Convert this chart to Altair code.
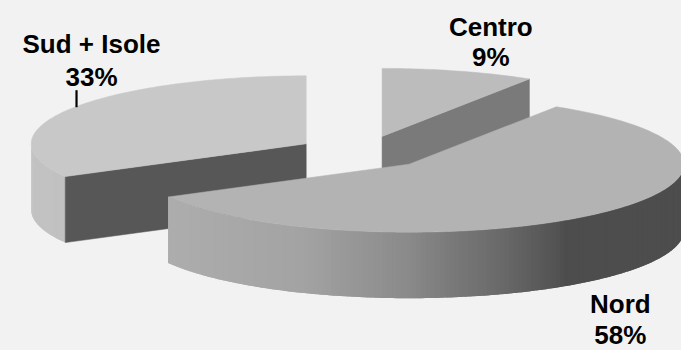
import math
import numpy as np
import altair as alt

# ---------------- data ----------------
categories = ["Centro", "Nord", "Sud + Isole"]
values = [9, 58, 33]
pct_labels = ["9%", "58%", "33%"]

# ---------------- style ----------------
SCALE = 275            # px per unit (horizontal semi-axis)
CENTER = [363.5, 152.2]
K = 68 / 275           # vertical squash of the tilted pie
DEPTH = 66 / 275       # thickness
EXPLODE = 0.242        # explosion distance
top_gray = [188, 179, 200]
cut_gray = [122, 85, 87]
light_s = [-1.0, -0.87, -0.39, 0.0, 0.15, 0.33, 0.52, 0.57, 1.0]
light_f = [0.97, 0.966, 0.91, 0.77, 0.68, 0.59, 0.475, 0.43, 0.43]
label_dx = [32, 23, 22]
name_dy = [-35, 33, -56]
pct_dy = [-5, 64, -23]
BG = "#f2f2f2"
FONT = "Liberation Sans"


def hexg(g):
    g = int(round(max(0, min(255, g))))
    return "#%02x%02x%02x" % (g, g, g)


def poly(coords, fill, stroke):
    coords = [list(map(float, c)) for c in coords]
    if coords[0] != coords[-1]:
        coords.append(coords[0])
    return {"type": "Feature", "properties": {"fill": fill, "stroke": stroke},
            "geometry": {"type": "Polygon", "coordinates": [coords]}}


total = float(sum(values))
starts, ends = [], []
acc = 0.0
for v in values:
    starts.append(acc / total * 360.0)
    acc += v
    ends.append(acc / total * 360.0)

slices = []
for i in range(len(values)):
    t1, t2 = starts[i], ends[i]
    mid = math.radians((t1 + t2) / 2)
    ox = EXPLODE * math.sin(mid)
    oy = -EXPLODE * K * math.cos(mid)
    slices.append(dict(i=i, t1=t1, t2=t2, mid=mid, ox=ox, oy=oy))


def rim(s, deg, depth=0.0):
    r = math.radians(deg)
    return [s["ox"] + math.sin(r), s["oy"] - K * math.cos(r) + depth]


features = []
labels = []
leader = []
for s in sorted(slices, key=lambda d: d["oy"]):
    i = s["i"]
    apex = [s["ox"], s["oy"]]
    apex_b = [s["ox"], s["oy"] + DEPTH]
    # outer wall (visible front half 90..270), drawn as overlapping strips
    w1, w2 = max(s["t1"], 90.0), min(s["t2"], 270.0)
    if w2 > w1:
        n = max(1, int(math.ceil(w2 - w1)))
        for j in range(n):
            a0 = w1 + (w2 - w1) * j / n
            a1 = min(w2, w1 + (w2 - w1) * (j + 1) / n + 0.9)
            am = math.radians(w1 + (w2 - w1) * (j + 0.5) / n)
            g = top_gray[i] * float(np.interp(math.sin(am), light_s, light_f))
            pts = [rim(s, a0), rim(s, (a0 + a1) / 2), rim(s, a1),
                   rim(s, a1, DEPTH), rim(s, (a0 + a1) / 2, DEPTH), rim(s, a0, DEPTH)]
            features.append(poly(pts, hexg(g), "transparent"))
    # radial cut faces
    for t, sgn in ((s["t1"], -90.0), (s["t2"], 90.0)):
        if math.cos(math.radians(t + sgn)) < -1e-6:
            features.append(poly([apex, rim(s, t), rim(s, t, DEPTH), apex_b],
                                 hexg(cut_gray[i]), hexg(cut_gray[i])))
    # top face
    n = max(2, int(math.ceil(s["t2"] - s["t1"])))
    arc = [rim(s, s["t1"] + (s["t2"] - s["t1"]) * j / n) for j in range(n + 1)]
    features.append(poly([apex] + arc, hexg(top_gray[i]), hexg(top_gray[i])))

    # labels
    md = math.degrees(s["mid"])
    below = math.cos(s["mid"]) < 0
    p = rim(s, md, DEPTH if below else 0.0)
    lx = p[0] + label_dx[i] / SCALE
    labels.append({"lon": lx, "lat": p[1] + name_dy[i] / SCALE, "text": categories[i]})
    labels.append({"lon": lx, "lat": p[1] + pct_dy[i] / SCALE, "text": pct_labels[i]})
    if not below and name_dy[i] < -45:
        leader.append({"type": "Feature", "properties": {},
                       "geometry": {"type": "LineString",
                                    "coordinates": [[p[0] + 7 / SCALE, p[1] - 19 / SCALE],
                                                    [p[0] + 7 / SCALE, p[1] - 2 / SCALE]]}})

shapes = alt.Chart(alt.Data(values=features)).mark_geoshape(strokeWidth=0.5).encode(
    fill=alt.Fill("properties.fill:N", scale=None),
    stroke=alt.Stroke("properties.stroke:N", scale=None),
).project(type="identity", scale=SCALE, translate=CENTER)

layers = [shapes]
if leader:
    lead = alt.Chart(alt.Data(values=leader)).mark_geoshape(
        filled=False, stroke="black", strokeWidth=2.2
    ).project(type="identity", scale=SCALE, translate=CENTER)
    layers.append(lead)

texts = alt.Chart(alt.Data(values=labels)).mark_text(
    font=FONT, fontWeight="bold", fontSize=26, align="center", baseline="alphabetic", color="black"
).encode(
    longitude="lon:Q", latitude="lat:Q", text="text:N"
).project(type="identity", scale=SCALE, translate=CENTER)
layers.append(texts)

chart = alt.layer(*layers).properties(
    width=681, height=350, padding=0, autosize="none", background=BG
).configure_view(stroke=None)

chart.save("out.html", embed_options={"renderer": "svg", "actions": False})
